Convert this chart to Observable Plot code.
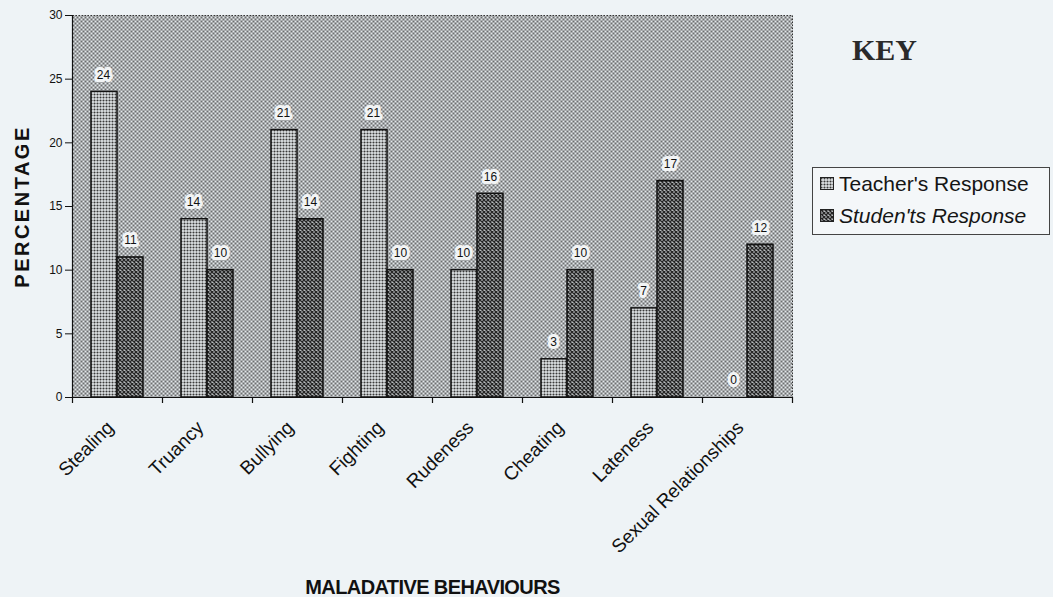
<!DOCTYPE html>
<html><head><meta charset="utf-8">
<script src="https://cdn.jsdelivr.net/npm/d3@7"></script>
<script src="https://cdn.jsdelivr.net/npm/@observablehq/plot@0.6"></script>
<style>
body{margin:0;background:#eef3f6;}
#wrap{position:relative;width:1053px;height:597px;overflow:hidden;font-family:Arial,"Liberation Sans",sans-serif;}
#chart svg{display:block;}
#key{position:absolute;left:852px;top:33px;font:bold 30px "Liberation Serif","Times New Roman",serif;color:#2a2a2a;}
#legend{position:absolute;left:812px;top:167px;width:238px;height:68px;border:1px solid #444;box-sizing:border-box;background:#f4f7f9;}
.row{position:absolute;left:7px;font-size:21px;color:#151515;display:flex;align-items:center;white-space:nowrap;}
.row svg{margin-right:4px;}
svg [aria-label="y-axis label"] text{font-weight:bold;font-size:20px;letter-spacing:2.5px;}
svg [aria-label="x-axis label"] text{font-weight:bold;font-size:20px;letter-spacing:-0.6px;}
</style></head>
<body>
<svg width="0" height="0" style="position:absolute">
  <defs>
    <pattern id="bgPat" width="4" height="4" patternUnits="userSpaceOnUse">
      <rect width="4" height="4" fill="#e2e7ea"/>
      <circle cx="1" cy="1" r="0.95" fill="#3a3a3a"/>
      <circle cx="3" cy="3" r="0.95" fill="#3a3a3a"/>
    </pattern>
    <pattern id="tPat" width="3" height="3" patternUnits="userSpaceOnUse">
      <rect width="3" height="3" fill="#e0e4e6"/>
      <circle cx="1.5" cy="1.5" r="1.05" fill="#3a3a3a"/>
    </pattern>
    <pattern id="sPat" width="4" height="4" patternUnits="userSpaceOnUse">
      <rect width="4" height="4" fill="#b8bcbe"/>
      <path d="M0,0L4,4M4,0L0,4" stroke="#262626" stroke-width="1.3"/>
    </pattern>
  </defs>
</svg>
<div id="wrap">
  <div id="chart"></div>
  <div id="key">KEY</div>
  <div id="legend"></div>
</div>
<script>
const categories = ["Stealing","Truancy","Bullying","Fighting","Rudeness","Cheating","Lateness","Sexual Relationships"];
const teacherValues = [24,14,21,21,10,3,7,0];
const studentValues = [11,10,14,10,16,10,17,12];
const yTicks = [0,5,10,15,20,25,30];
const seriesNames = ["Teacher's Response","Studen'ts Response"];
const seriesFills = ["url(#tPat)","url(#sPat)"];

const teacherData = categories.map((c,i)=>({category:c, series:seriesNames[0], value:teacherValues[i]}));
const studentData = categories.map((c,i)=>({category:c, series:seriesNames[1], value:studentValues[i]}));

const chart = Plot.plot({
  width:1053, height:597,
  marginLeft:72, marginRight:261, marginTop:15, marginBottom:200,
  style:{background:"transparent", fontFamily:"Arial, 'Liberation Sans', sans-serif", color:"#111"},
  x:{domain:categories, padding:0},
  y:{domain:[0,30]},
  marks:[
    Plot.frame({fill:"url(#bgPat)", stroke:"#333", strokeDasharray:"1.5,1.5"}),
    Plot.barY(teacherData,{x:"category", y:"value", fill:seriesFills[0], stroke:"#111", strokeWidth:1.5, insetLeft:19, insetRight:45}),
    Plot.barY(studentData,{x:"category", y:"value", fill:seriesFills[1], stroke:"#111", strokeWidth:1.5, insetLeft:45, insetRight:19}),
    Plot.ruleY([0],{stroke:"#111", strokeWidth:1.2}),
    Plot.ruleX([categories[0]],{dx:-45, stroke:"#111", strokeWidth:1.2}),
    Plot.ruleX(categories,{dx:-45, y1:0, y2:0, insetBottom:-6, stroke:"#111", strokeWidth:1.2}),
    Plot.ruleX([categories[categories.length-1]],{dx:45, y1:0, y2:0, insetBottom:-6, stroke:"#111", strokeWidth:1.2}),
    Plot.text(teacherData,{x:"category", y:"value", text:d=>String(d.value), dx:-14, dy:-17, fontSize:12, fill:"#111", stroke:"#f2f4f5", strokeWidth:6, paintOrder:"stroke"}),
    Plot.text(studentData,{x:"category", y:"value", text:d=>String(d.value), dx:13, dy:-17, fontSize:12, fill:"#111", stroke:"#f2f4f5", strokeWidth:6, paintOrder:"stroke"}),
    Plot.axisY({ticks:yTicks, tickSize:7, tickPadding:3, fontSize:12, label:"PERCENTAGE", labelAnchor:"center", labelOffset:58, labelArrow:"none"}),
    Plot.axisX({tickSize:0, tickRotate:-45, tickPadding:27, dx:-7, fontSize:19, textAnchor:"end", label:"MALADATIVE BEHAVIOURS", labelAnchor:"center", labelOffset:196, labelArrow:"none"})
  ]
});
document.getElementById("chart").appendChild(chart);

const legend = d3.select("#legend");
seriesNames.forEach((name,i)=>{
  const row = legend.append("div").attr("class","row").style("top", (i===0?4:36)+"px").style("font-style", i===0?"normal":"italic");
  const sw = row.append("svg").attr("width",15).attr("height",14);
  sw.append("rect").attr("x",0.5).attr("y",0.5).attr("width",13).attr("height",12).attr("fill",seriesFills[i]).attr("stroke","#222");
  row.append("span").text(name);
});
</script>
</body></html>
